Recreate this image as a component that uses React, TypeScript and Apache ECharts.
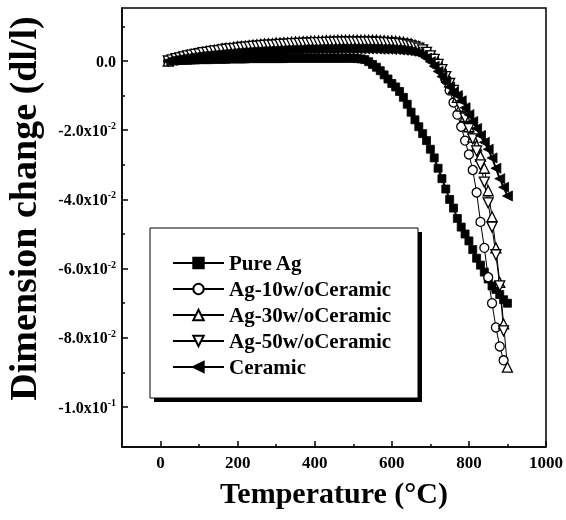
import React, { useEffect, useRef } from 'react';
import * as echarts from 'echarts';

// Temperature samples (°C)
const temps = [
  20, 30, 40, 50, 60, 70, 80, 90, 100, 110,
  120, 130, 140, 150, 160, 170, 180, 190, 200, 210,
  220, 230, 240, 250, 260, 270, 280, 290, 300, 310,
  320, 330, 340, 350, 360, 370, 380, 390, 400, 410,
  420, 430, 440, 450, 460, 470, 480, 490, 500, 510,
  520, 530, 540, 550, 560, 570, 580, 590, 600, 610,
  620, 630, 640, 650, 660, 670, 680, 690, 700, 710,
  720, 730, 740, 750, 760, 770, 780, 790, 800, 810,
  820, 830, 840, 850, 860, 870, 880, 890, 900,
];

const pureAg = [
  0, .0001, .0001, .0002, .0002, .0002, .0003, .0003, .0004, .0004,
  .0004, .0004, .0005, .0005, .0005, .0005, .0006, .0006, .0006, .0006,
  .0006, .0007, .0007, .0007, .0007, .0007, .0007, .0007, .0007, .0007,
  .0007, .0008, .0008, .0008, .0008, .0008, .0008, .0008, .0008, .0008,
  .0008, .0008, .0008, .0008, .0008, .0008, .0008, .0008, .0008, .0007,
  .0006, .0004, -.0002, -.001, -.0018, -.0028, -.004, -.0052, -.0065, -.0075,
  -.0088, -.0105, -.0125, -.0148, -.017, -.019, -.021, -.023, -.0255, -.028,
  -.031, -.034, -.037, -.040, -.0425, -.0455, -.048, -.050, -.052, -.0545,
  -.057, -.059, -.061, -.063, -.065, -.066, -.0675, -.069, -.070,
];

const ag10 = [
  0, .0003, .0005, .0008, .001, .0012, .0014, .0016, .0018, .0019,
  .0021, .0022, .0023, .0025, .0026, .0027, .0028, .003, .0031, .0032,
  .0032, .0033, .0034, .0035, .0036, .0036, .0037, .0038, .0039, .0039,
  .004, .004, .0041, .0041, .0041, .0042, .0042, .0043, .0043, .0043,
  .0044, .0044, .0044, .0044, .0045, .0045, .0045, .0045, .0045, .0045,
  .0045, .0045, .0045, .0045, .0044, .0044, .0043, .0043, .0042, .0041,
  .004, .0039, .0037, .0035, .0032, .0029, .0025, .002, .0013, .0005,
  -.001, -.003, -.0055, -.0085, -.012, -.0155, -.019, -.023, -.027, -.0315,
  -.038, -.0465, -.054, -.0625, -.070, -.077, -.0825, -.0865,
];

const ag30 = [
  0, .0004, .0007, .001, .0013, .0016, .0019, .0021, .0023, .0026,
  .0028, .0029, .0031, .0033, .0035, .0037, .0038, .004, .0041, .0042,
  .0043, .0044, .0046, .0047, .0048, .0049, .005, .005, .0052, .0052,
  .0053, .0053, .0054, .0055, .0055, .0056, .0056, .0057, .0057, .0058,
  .0058, .0059, .0059, .0059, .006, .006, .006, .006, .006, .006,
  .006, .006, .006, .006, .006, .0059, .0059, .0058, .0058, .0057,
  .0056, .0054, .0052, .005, .0046, .0042, .0036, .003, .002, .001,
  -.0005, -.002, -.004, -.006, -.008, -.0105, -.013, -.016, -.019, -.022,
  -.0245, -.0275, -.031, -.0375, -.045, -.054, -.064, -.076, -.0885,
];

const ag50 = [
  0, .0003, .0007, .0009, .0012, .0015, .0017, .0019, .0021, .0024,
  .0025, .0027, .0029, .003, .0032, .0034, .0035, .0036, .0037, .0039,
  .004, .0041, .0042, .0043, .0044, .0045, .0046, .0046, .0047, .0048,
  .0048, .0049, .005, .005, .0051, .0051, .0052, .0052, .0053, .0053,
  .0053, .0054, .0054, .0054, .0055, .0055, .0055, .0055, .0055, .0055,
  .0055, .0055, .0055, .0055, .0054, .0054, .0053, .0053, .0052, .0051,
  .005, .0049, .0047, .0044, .0041, .0037, .0032, .0025, .0015, .0005,
  -.001, -.0025, -.0045, -.0065, -.0085, -.011, -.0135, -.0165, -.0195, -.0225,
  -.026, -.030, -.035, -.041, -.048, -.056, -.065, -.078,
];

const ceramic = [
  0, .0002, .0004, .0006, .0008, .0009, .0011, .0012, .0014, .0015,
  .0016, .0017, .0018, .0019, .002, .0021, .0022, .0023, .0024, .0025,
  .0025, .0026, .0027, .0027, .0028, .0028, .0029, .0029, .003, .003,
  .0031, .0031, .0032, .0032, .0032, .0033, .0033, .0033, .0033, .0034,
  .0034, .0034, .0034, .0034, .0035, .0035, .0035, .0035, .0035, .0035,
  .0035, .0035, .0035, .0035, .0035, .0034, .0034, .0034, .0033, .0033,
  .0032, .0031, .003, .0028, .0026, .0022, .0016, .0008, -.0002, -.0015,
  -.003, -.0045, -.006, -.0075, -.009, -.010, -.0115, -.0135, -.0155, -.0175,
  -.0195, -.0215, -.0235, -.0255, -.028, -.031, -.034, -.0365, -.039,
];

const seriesNames = ['Pure Ag', 'Ag-10w/oCeramic', 'Ag-30w/oCeramic', 'Ag-50w/oCeramic', 'Ceramic'];

const xMajorTicks = [0, 200, 400, 600, 800, 1000];
const xMinorTicks = [100, 300, 500, 700, 900];
const yMajorTicks = [0, -0.02, -0.04, -0.06, -0.08, -0.1];
const yMajorMantissa = ['0.0', '-2.0', '-4.0', '-6.0', '-8.0', '-1.0'];
const yMajorExponent = ['', '-2', '-2', '-2', '-2', '-1'];
const yMinorTicks = [0.01, -0.01, -0.03, -0.05, -0.07, -0.09];

export default function App() {
  const ref = useRef<HTMLDivElement>(null);

  useEffect(() => {
    const chart = echarts.init(ref.current as HTMLDivElement, null, { renderer: 'svg' });
    const serif = '"Liberation Serif", "Times New Roman", serif';
    const pair = (vals: number[]) => vals.map((v, i) => [temps[i], v]);
    const gridRect = { left: 122, right: 20, top: 8, bottom: 73 };
    const black = '#000';

    const lineSeries = (
      name: string,
      vals: number[],
      symbol: string,
      size: number,
      filled: boolean,
      lineWidth: number,
      rotate = 0,
    ) => ({
      type: 'line',
      name,
      data: pair(vals),
      xAxisIndex: 0,
      yAxisIndex: 0,
      symbol,
      symbolSize: size,
      symbolRotate: rotate,
      showAllSymbol: true,
      lineStyle: { color: black, width: lineWidth },
      itemStyle: filled
        ? { color: black, borderColor: black, borderWidth: 0.8 }
        : { color: '#fff', borderColor: black, borderWidth: 1.3 },
      emphasis: { disabled: true },
      z: 3,
    });

    const option: any = {
      animation: false,
      grid: [
        { ...gridRect, show: true, borderColor: black, borderWidth: 1.5, backgroundColor: 'transparent', outerBoundsMode: 'none' },
        { ...gridRect, show: false, outerBoundsMode: 'none' },
      ],
      xAxis: [
        {
          type: 'value',
          gridIndex: 0,
          min: -100,
          max: 1000,
          axisLine: { show: true, onZero: false, lineStyle: { color: black, width: 1.5 } },
          axisTick: { show: true, inside: true, length: 6, customValues: xMajorTicks, lineStyle: { color: black, width: 1.5 } },
          axisLabel: {
            customValues: xMajorTicks,
            formatter: (v: number) => String(v),
            fontFamily: serif,
            fontWeight: 'bold',
            fontSize: 17,
            color: black,
            margin: 7,
          },
          splitLine: { show: false },
          name: 'Temperature (°C)',
          nameLocation: 'middle',
          nameGap: 30,
          nameTextStyle: { fontFamily: serif, fontWeight: 'bold', fontSize: 30, color: black },
        },
        {
          type: 'value',
          gridIndex: 1,
          min: -100,
          max: 1000,
          axisLine: { show: false, onZero: false },
          axisTick: { show: true, inside: true, length: 3, customValues: xMinorTicks, lineStyle: { color: black, width: 1.5 } },
          axisLabel: { show: false },
          splitLine: { show: false },
        },
      ],
      yAxis: [
        {
          type: 'value',
          gridIndex: 0,
          min: -0.11156,
          max: 0.01532,
          axisLine: { show: true, onZero: false, lineStyle: { color: black, width: 1.5 } },
          axisTick: { show: true, inside: true, length: 6, customValues: yMajorTicks, lineStyle: { color: black, width: 1.5 } },
          axisLabel: {
            customValues: yMajorTicks,
            margin: 6,
            formatter: (v: number) => {
              const i = yMajorTicks.findIndex((t) => Math.abs(t - v) < 1e-9);
              if (i < 0) return '';
              return yMajorExponent[i]
                ? `{m|${yMajorMantissa[i]}x10}{s|${yMajorExponent[i]}}`
                : `{m|${yMajorMantissa[i]}}`;
            },
            rich: {
              m: { fontFamily: serif, fontWeight: 'bold', fontSize: 16, color: black },
              s: { fontFamily: serif, fontWeight: 'bold', fontSize: 10, color: black, padding: [0, 0, 9, 0] },
            },
          },
          splitLine: { show: false },
          name: 'Dimension change (dl/l)',
          nameLocation: 'middle',
          nameGap: 80,
          nameTextStyle: { fontFamily: serif, fontWeight: 'bold', fontSize: 38, color: black, padding: [0, 0, 0, 38] },
        },
        {
          type: 'value',
          gridIndex: 1,
          min: -0.11156,
          max: 0.01532,
          axisLine: { show: false, onZero: false },
          axisTick: { show: true, inside: true, length: 3, customValues: yMinorTicks, lineStyle: { color: black, width: 1.5 } },
          axisLabel: { show: false },
          splitLine: { show: false },
        },
      ],
      graphic: [
        { type: 'rect', z: 5, shape: { x: 154, y: 232, width: 268, height: 170 }, style: { fill: black } },
        { type: 'rect', z: 5, shape: { x: 150, y: 228, width: 268, height: 170 }, style: { fill: '#fff', stroke: black, lineWidth: 1 } },
      ],
      legend: {
        orient: 'vertical',
        left: 172,
        top: 252,
        padding: 0,
        itemWidth: 51,
        itemHeight: 13,
        itemGap: 4,
        z: 10,
        data: seriesNames,
        textStyle: { fontFamily: serif, fontWeight: 'bold', fontSize: 21, lineHeight: 22, color: black },
      },
      series: [
        lineSeries(seriesNames[0], pureAg, 'rect', 8, true, 2),
        lineSeries(seriesNames[1], ag10, 'circle', 9, false, 1),
        lineSeries(seriesNames[2], ag30, 'triangle', 10, false, 1),
        lineSeries(seriesNames[3], ag50, 'triangle', 10, false, 1, 180),
        lineSeries(seriesNames[4], ceramic, 'triangle', 10, true, 2, 90),
      ],
    };

    chart.setOption(option);
    return () => chart.dispose();
  }, []);

  return <div ref={ref} style={{ position: 'fixed', left: 0, top: 0, width: 566, height: 520 }} />;
}
